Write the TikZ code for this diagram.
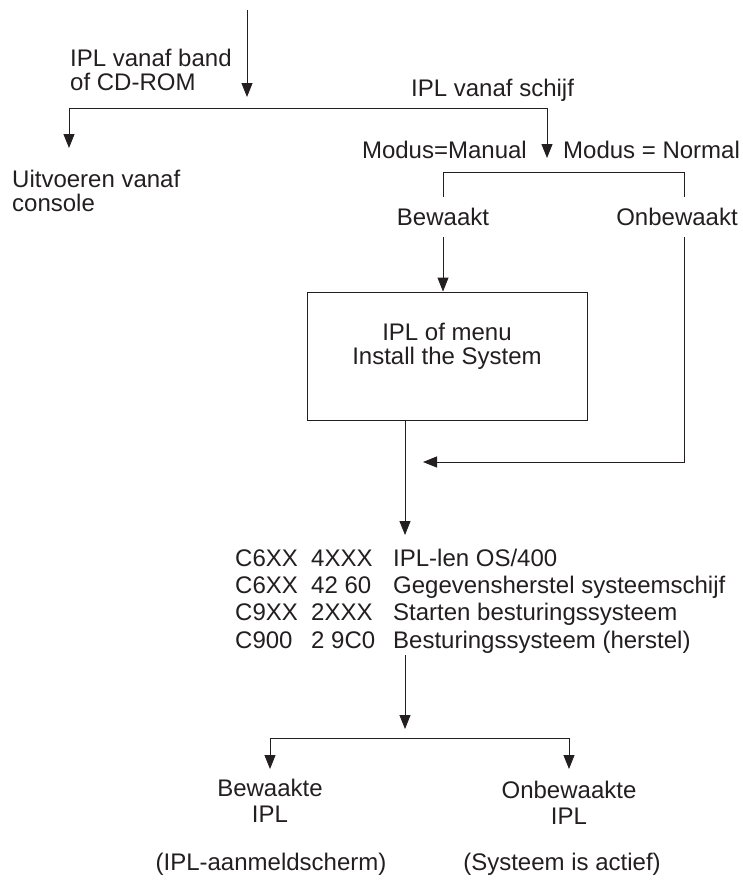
\documentclass[tikz,border=0pt]{standalone}
\usepackage{fontspec}
\setmainfont{Liberation Sans}
\usetikzlibrary{arrows.meta}
\definecolor{ink}{HTML}{231F20}
\begin{document}
\begin{tikzpicture}[x=1pt,y=-1pt,
  every node/.style={inner sep=0pt, text=ink, font=\fontsize{24}{24.5}\selectfont},
  wire/.style={draw=ink, line width=0.9pt},
  arrow/.style={wire, -{Triangle[length=14pt,width=11pt]}},
  twoline/.style={align=center},
  twolineleft/.style={align=left},
  flowbox/.style={draw=ink, line width=0.9pt, align=center,
                  minimum width=280pt, minimum height=128pt}
]
\useasboundingbox (0,0) rectangle (743,881);

% ---- first branch: tape / CD-ROM versus disk ----
\coordinate (start) at (247,10);
\coordinate (startEnd) at (247,97);
\coordinate (forkA) at (69,108);
\coordinate (forkB) at (547,108);
\coordinate (consoleIn) at (69,148);
\coordinate (modeIn) at (547,158);

\node[twolineleft, anchor=north west] (tape) at (70,48.5) {IPL vanaf band\\of CD-ROM};
\node[anchor=base west] (disk) at (411,96) {IPL vanaf schijf};
\node[twolineleft, anchor=north west] (console) at (12,169.5) {Uitvoeren vanaf\\console};
\node[anchor=base east] (manual) at (527,158) {Modus=Manual};
\node[anchor=base west] (normal) at (563,158) {Modus = Normal};

\draw[arrow] (start) -- (startEnd);
\draw[arrow] (consoleIn |- forkA) -- (consoleIn);
\draw[wire] (forkA) -- (forkB);
\draw[arrow] (forkB) -- (modeIn);

% ---- attended / unattended ----
\coordinate (attL) at (443,197);
\coordinate (attR) at (684,197);
\coordinate (bar) at (443,172);
\node[anchor=base] (attended) at (443,225.5) {Bewaakt};
\node[anchor=base] (unattended) at (677,225.5) {Onbewaakt};
\draw[wire] (attL) -- (bar) -- (bar -| attR) -- (attR);

\node[flowbox] (menu) at (447,356) {IPL of menu\\Install the System\\\mbox{}};
\draw[arrow] (443,237) -- (menu.north -| attL);

\coordinate (join) at (405,535);
\coordinate (mergeTip) at (423,462);
\draw[arrow] (menu.south -| join) -- (join);
\draw[arrow] (attR |- 0,237) -- (attR |- mergeTip) -- (mergeTip);

% ---- progress codes ----
\node[anchor=base west] (codes) at (235,566.5) {\fontsize{24}{27.2}\selectfont
  \begin{tabular}[t]{@{}p{76pt}@{}p{82pt}@{}l@{}}
  C6XX & 4XXX  & IPL-len OS/400\\
  C6XX & 42 60 & Gegevensherstel systeemschijf\\
  C9XX & 2XXX  & Starten besturingssysteem\\
  C900 & 2 9C0 & Besturingssysteem (herstel)
  \end{tabular}};

% ---- final branch ----
\coordinate (endIn) at (405,655);
\coordinate (endTip) at (405,729);
\coordinate (forkC) at (270,738);
\coordinate (forkD) at (569,738);
\draw[arrow] (endIn) -- (endTip);
\draw[wire] (forkC) -- (forkD);
\node[twoline, anchor=north, font=\fontsize{24}{26}\selectfont] (guarded) at (270,778.5) {Bewaakte\\IPL};
\node[twoline, anchor=north, font=\fontsize{24}{26}\selectfont] (unguarded) at (569,780.5) {Onbewaakte\\IPL};
\draw[arrow] (forkC) -- (forkC |- 0,769);
\draw[arrow] (forkD) -- (forkD |- 0,769);
\node[anchor=base] (signon) at (271,870) {(IPL-aanmeldscherm)};
\node[anchor=base] (active) at (562,870) {(Systeem is actief)};
\end{tikzpicture}
\end{document}
